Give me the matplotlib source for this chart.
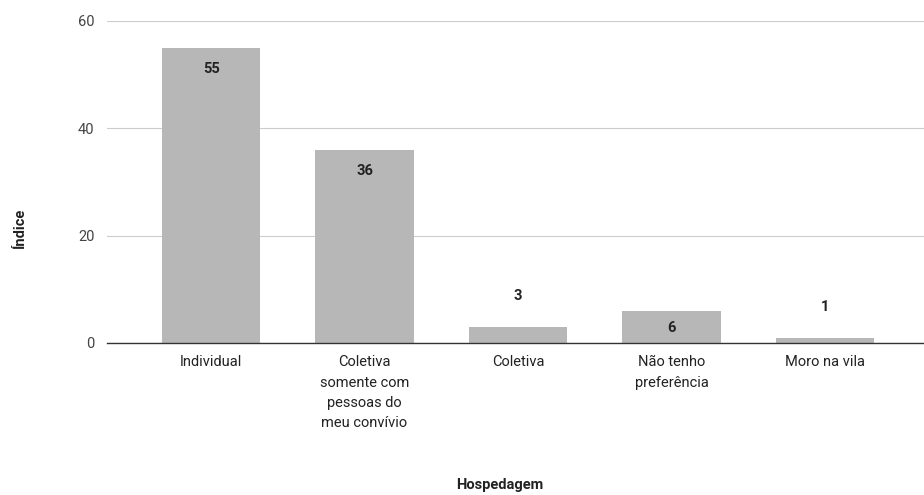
import matplotlib.pyplot as plt

# Dados
categorias = ['Individual', 'Coletiva\nsomente com\npessoas do\nmeu convívio',
              'Coletiva', 'Não tenho\npreferência', 'Moro na vila']
valores = [55, 36, 3, 6, 1]
yticks = [0, 20, 40, 60]

plt.rcParams['font.family'] = ['Roboto', 'DejaVu Sans']

fig = plt.figure(figsize=(9.24, 4.95), dpi=100)
ax = fig.add_axes([107 / 924, (495 - 343) / 495, 1 - 107 / 924, (343 - 21) / 495])

x = list(range(len(categorias)))
ax.bar(x, valores, width=0.64, color='#b7b7b7', zorder=2)

ax.set_xlim(-0.678, 4.645)
ax.set_ylim(0, 60)
ax.set_yticks(yticks)
ax.set_xticks(x)
ax.set_xticklabels(categorias, fontsize=10.5, color='#222222', linespacing=1.55, va='top')
ax.tick_params(axis='y', labelsize=10.5, colors='#444444', length=0, pad=9)
ax.tick_params(axis='x', length=0, pad=9)
ax.grid(axis='y', color='#cccccc', linewidth=0.8, zorder=0)
for s in ['top', 'right', 'left']:
    ax.spines[s].set_visible(False)
ax.spines['bottom'].set_color('#333333')
ax.spines['bottom'].set_linewidth(1.0)
ax.spines['bottom'].set_zorder(3)

# Rótulos: dentro da barra se couber, senão acima
for xi, v in zip(x, valores):
    if v >= 5:
        off = -21 if v > 10 else -17
        ax.annotate(str(v), (xi, v), xytext=(0, off), textcoords='offset pixels',
                    ha='center', va='center', fontsize=10.5, fontweight='bold', color='#222222')
    else:
        ax.annotate(str(v), (xi, v), xytext=(0, 31), textcoords='offset pixels',
                    ha='center', va='center', fontsize=10.5, fontweight='bold', color='#222222')

fig.text(500 / 924, 1 - 485 / 495, 'Hospedagem', ha='center', va='center',
         fontsize=10.5, fontweight='bold', color='#222222')
fig.text(20 / 924, 1 - 228 / 495, 'Índice', ha='center', va='center', rotation=90,
         fontsize=10.5, fontweight='bold', color='#222222')

fig.savefig('out.png', dpi=100)
